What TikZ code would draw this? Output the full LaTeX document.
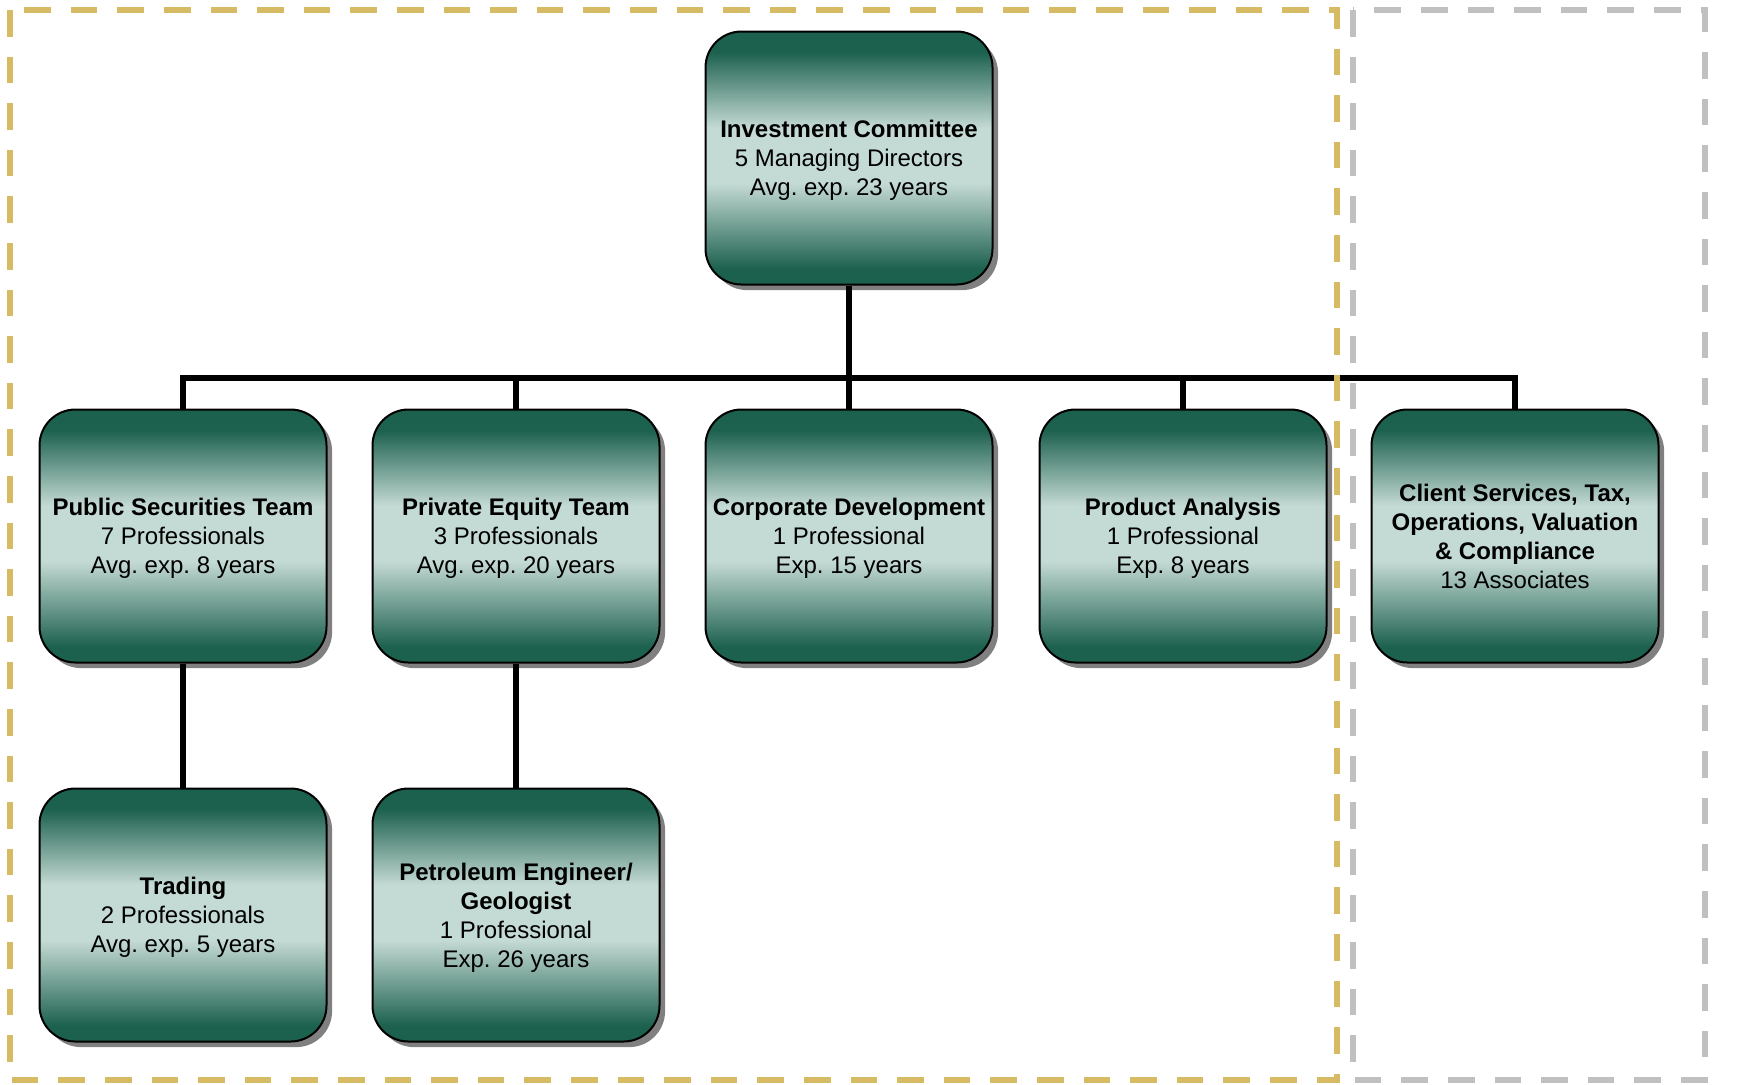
\documentclass[tikz,border=0pt]{standalone}
\usepackage{fontspec}
\setmainfont{Liberation Sans}
\frenchspacing
\usetikzlibrary{positioning,calc,shadows}
\definecolor{teamdark}{HTML}{1C604E}
\definecolor{teamlight}{HTML}{C4DAD4}
\definecolor{frgold}{HTML}{D6BA64}
\definecolor{frgray}{HTML}{C0C0C0}
\definecolor{shadowgray}{HTML}{808080}
\pgfdeclareverticalshading{teamshade}{100bp}{color(0bp)=(teamdark); color(28bp)=(teamdark); color(45bp)=(teamlight); color(56bp)=(teamlight); color(71bp)=(teamdark); color(100bp)=(teamdark)}

\begin{document}
\begin{tikzpicture}[
  x=0.5pt, y=-0.5pt,
  font=\fontsize{12}{14.5}\selectfont,
  box/.style={draw=black, line width=1pt, rounded corners=18pt, shading=teamshade,
    minimum width=143.5pt, minimum height=126.5pt, align=center, inner sep=2pt, text depth=0pt,
    drop shadow={shadow xshift=2.8pt, shadow yshift=-2.8pt, fill=shadowgray, opacity=1}},
  wire/.style={line width=2.8pt, black},
  frame/.style={line width=3.2pt, dash pattern=on 13.3pt off 10pt},
]
  \useasboundingbox (0,0) rectangle (1738,1084);
  \draw[frame, frgray] (1353,10) rectangle (1705,1080);

  \node[box] (ic) at (849,158) {\textbf{Investment Committee}\\5 Managing Directors\\Avg. exp. 23 years};

  \node[box] (pub) at (183,536) {\textbf{Public Securities Team}\\7 Professionals\\Avg. exp. 8 years};
  \node[box] (pe) at (516,536) {\textbf{Private Equity Team}\\3 Professionals\\Avg. exp. 20 years};
  \node[box] (corp) at (849,536) {\textbf{Corporate Development}\\1 Professional\\Exp. 15 years};
  \node[box] (prod) at (1183,536) {\textbf{Product Analysis}\\1 Professional\\Exp. 8 years};
  \node[box] (client) at (1515,536) {\textbf{Client Services, Tax,}\\\textbf{Operations, Valuation}\\\textbf{\& Compliance}\\13 Associates};

  \node[box] (trade) at (183,915) {\textbf{Trading}\\2 Professionals\\Avg. exp. 5 years};
  \node[box] (petro) at (516,915) {\textbf{Petroleum Engineer/}\\\textbf{Geologist}\\1 Professional\\Exp. 26 years};

  \coordinate (bus) at (849,378);
  \draw[wire] (ic.south) -- (corp.north);
  \draw[wire] (pub.north) |- (bus) -| (client.north);
  \foreach \n in {pe,prod} \draw[wire] (\n.north) -- (\n.north |- bus);
  \draw[wire] (pub.south) -- (trade.north);
  \draw[wire] (pe.south) -- (petro.north);

  \draw[frame, frgold] (10,10) rectangle (1337,1080);
\end{tikzpicture}
\end{document}
